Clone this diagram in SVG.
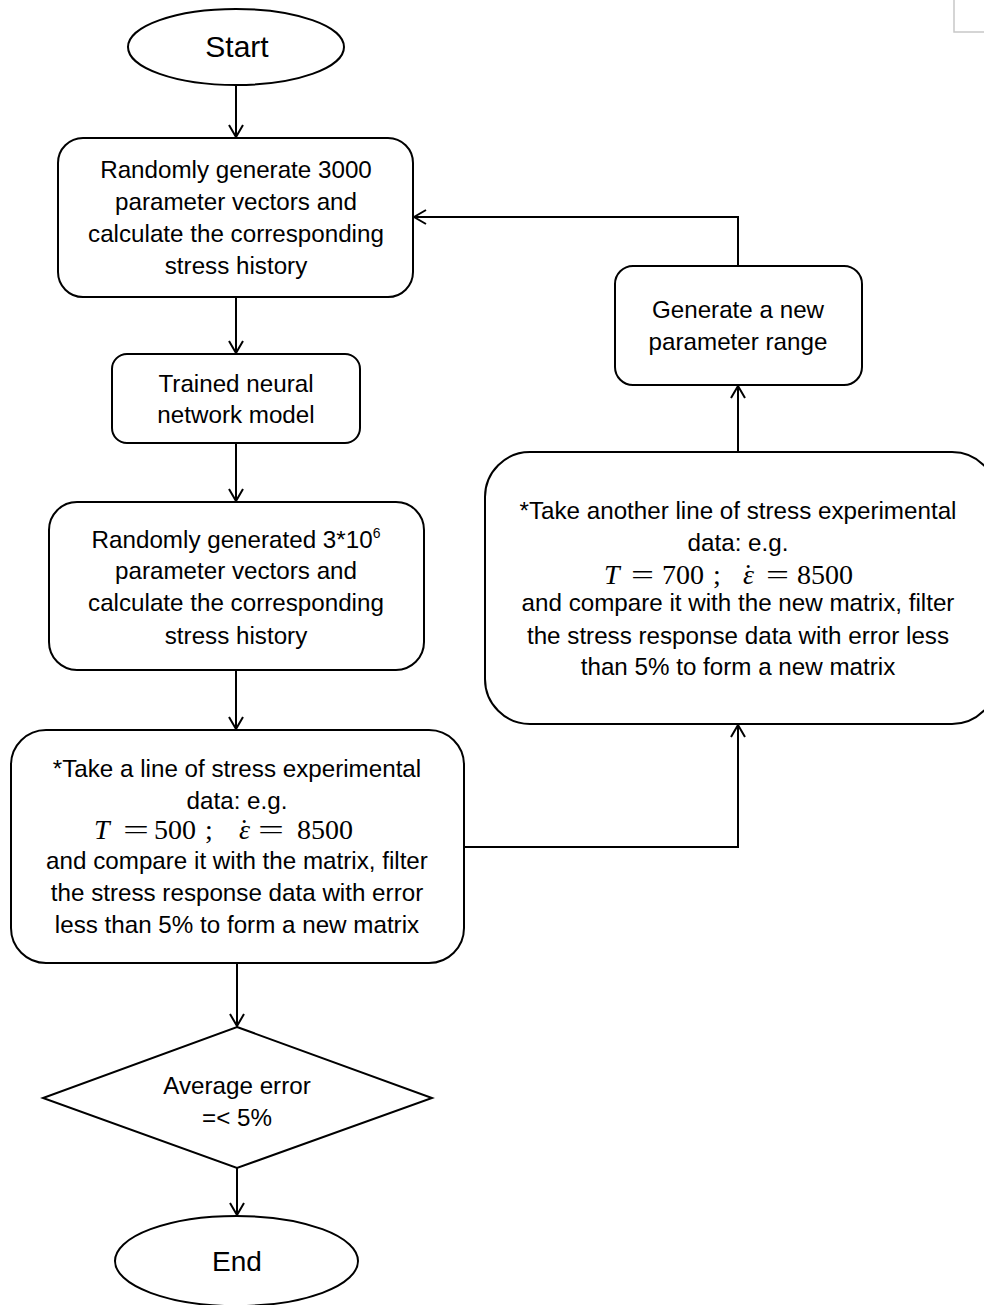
<svg xmlns="http://www.w3.org/2000/svg" width="984" height="1305" viewBox="0 0 984 1305">
<defs>
<marker id="arr" viewBox="0 0 14 16" refX="13" refY="8" markerWidth="14" markerHeight="16" markerUnits="userSpaceOnUse" orient="auto">
<path d="M1,1 L13,8 L1,15" fill="none" stroke="#000" stroke-width="2"/>
</marker>
<style>
.shape{fill:#fff;stroke:#000;stroke-width:2}
.t{font-family:"Liberation Sans",Arial,sans-serif;font-size:24.2px;fill:#000;text-anchor:middle}
.m{font-family:"Liberation Serif","DejaVu Serif",serif;font-size:28px;fill:#000}
.i{font-style:italic}
.c{fill:none;stroke:#000;stroke-width:2}
</style>
</defs>
<rect width="984" height="1305" fill="#fff"/>
<g id="corner-mark">
<path d="M954,0 L954,32 L984,32" fill="none" stroke="#c8c8c8" stroke-width="1.5"/>
</g>
<g id="connectors">
<line class="c" x1="236" y1="85" x2="236" y2="137" marker-end="url(#arr)"/>
<line class="c" x1="236" y1="297" x2="236" y2="353" marker-end="url(#arr)"/>
<line class="c" x1="236" y1="443" x2="236" y2="501" marker-end="url(#arr)"/>
<line class="c" x1="236" y1="670" x2="236" y2="729" marker-end="url(#arr)"/>
<line class="c" x1="237" y1="963" x2="237" y2="1026" marker-end="url(#arr)"/>
<line class="c" x1="237" y1="1168" x2="237" y2="1215" marker-end="url(#arr)"/>
<polyline class="c" points="464,847 738,847 738,725" marker-end="url(#arr)"/>
<line class="c" x1="738" y1="452" x2="738" y2="386" marker-end="url(#arr)"/>
<polyline class="c" points="738,266 738,217 414,217" marker-end="url(#arr)"/>
</g>
<g id="start">
<ellipse class="shape" cx="236" cy="47" rx="108" ry="38"/>
<text class="t" x="237" y="57" style="font-size:30px">Start</text>
</g>
<g id="generate-3000">
<rect class="shape" x="58" y="138" width="355" height="159" rx="25"/>
<text class="t" x="236" y="178">Randomly generate 3000</text>
<text class="t" x="236" y="210">parameter vectors and</text>
<text class="t" x="236" y="242">calculate the corresponding</text>
<text class="t" x="236" y="274">stress history</text>
</g>
<g id="trained-model">
<rect class="shape" x="112" y="354" width="248" height="89" rx="15"/>
<text class="t" x="236" y="392">Trained neural</text>
<text class="t" x="236" y="423">network model</text>
</g>
<g id="generate-3e6">
<rect class="shape" x="49" y="502" width="375" height="168" rx="28"/>
<text class="t" x="236" y="548">Randomly generated 3*10<tspan font-size="14" dy="-10">6</tspan></text>
<text class="t" x="236" y="579">parameter vectors and</text>
<text class="t" x="236" y="611">calculate the corresponding</text>
<text class="t" x="236" y="644">stress history</text>
</g>
<g id="filter-first">
<rect class="shape" x="11" y="730" width="453" height="233" rx="35"/>
<text class="t" x="237" y="777">*Take a line of stress experimental</text>
<text class="t" x="237" y="809">data: e.g.</text>
<text class="m i" x="94" y="839">T</text>
<text class="m" x="123" y="839" textLength="26" lengthAdjust="spacingAndGlyphs">=</text>
<text class="m" x="154" y="839">500</text>
<text class="m" x="205" y="839">;</text>
<text class="m" x="239" y="839"><tspan class="i">ε</tspan><tspan dx="-10.5" dy="-1">˙</tspan></text>
<text class="m" x="258" y="839" textLength="26" lengthAdjust="spacingAndGlyphs">=</text>
<text class="m" x="297" y="839">8500</text>
<text class="t" x="237" y="869">and compare it with the matrix, filter</text>
<text class="t" x="237" y="901">the stress response data with error</text>
<text class="t" x="237" y="933">less than 5% to form a new matrix</text>
</g>
<g id="filter-another">
<rect class="shape" x="485" y="452" width="512" height="272" rx="45"/>
<text class="t" x="738" y="519">*Take another line of stress experimental</text>
<text class="t" x="738" y="551">data: e.g.</text>
<text class="m i" x="604" y="584">T</text>
<text class="m" x="631" y="584" textLength="23" lengthAdjust="spacingAndGlyphs">=</text>
<text class="m" x="662" y="584">700</text>
<text class="m" x="713" y="584">;</text>
<text class="m" x="743" y="584"><tspan class="i">ε</tspan><tspan dx="-10.5" dy="-1">˙</tspan></text>
<text class="m" x="766" y="584" textLength="23" lengthAdjust="spacingAndGlyphs">=</text>
<text class="m" x="797" y="584">8500</text>
<text class="t" x="738" y="611">and compare it with the new matrix, filter</text>
<text class="t" x="738" y="644">the stress response data with error less</text>
<text class="t" x="738" y="675">than 5% to form a new matrix</text>
</g>
<g id="new-range">
<rect class="shape" x="615" y="266" width="247" height="119" rx="18"/>
<text class="t" x="738" y="318">Generate a new</text>
<text class="t" x="738" y="350">parameter range</text>
</g>
<g id="decision">
<polygon class="shape" points="237,1027 432,1098 237,1168 43,1098"/>
<text class="t" x="237" y="1094">Average error</text>
<text class="t" x="237" y="1126">=&lt; 5%</text>
</g>
<g id="end">
<ellipse class="shape" cx="236.5" cy="1261" rx="121.5" ry="45"/>
<text class="t" x="237" y="1271" style="font-size:28px">End</text>
</g>
</svg>
